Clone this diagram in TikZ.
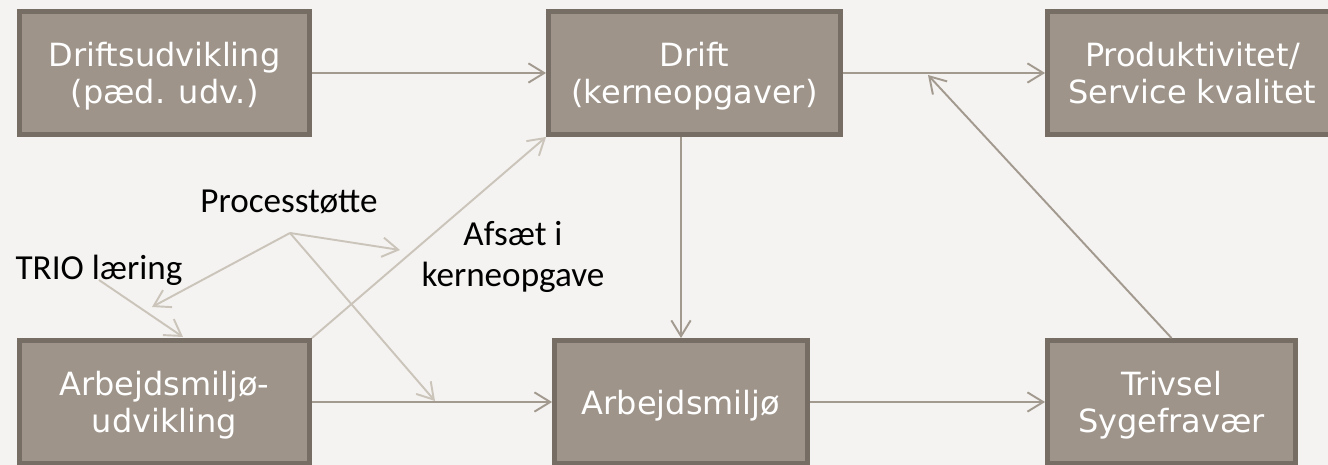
\documentclass[tikz,border=0pt]{standalone}
\usepackage{fontspec}
\setmainfont{Carlito}
\newfontfamily\boxfont{DejaVu Sans}
\usepackage[HTML]{xcolor}
\usepackage{tikz}
\usetikzlibrary{positioning, arrows.meta}

\definecolor{paper}{HTML}{F4F3F1}
\definecolor{boxfill}{HTML}{9E948A}
\definecolor{boxline}{HTML}{766D65}
\definecolor{darkarrow}{HTML}{A39A8F}
\definecolor{lightarrow}{HTML}{CBC4BA}

\begin{document}
\begin{tikzpicture}[x=0.02cm, y=-0.02cm,
  block/.style={draw=boxline, fill=boxfill, line width=2.8pt, text=white,
    minimum height=2.46cm, align=center, inner sep=0pt, text depth=0pt,
    font=\boxfont\fontsize{18.2}{21}\selectfont},
  note/.style={text=black, align=center, font=\fontsize{20}{23.8}\selectfont},
  link/.style={darkarrow, line width=1.1pt, -{Straight Barb[length=9pt, width=11pt]}},
  hint/.style={link, lightarrow}]

% --- Canvas ---
\fill[paper] (0,0) rectangle (1328,465);
\useasboundingbox (0,0) rectangle (1328,465);
\clip (0,0) rectangle (1328,465);

% --- Top row ---
\node[block, minimum width=5.8cm] (du) at (164.5,73) {Driftsudvikling\\(pæd. udv.)};
\node[block, minimum width=5.84cm] (drift) at (694.5,73) {Drift\\(kerneopgaver)};
\node[block, minimum width=5.8cm] (prod) at (1192.5,73) {Produktivitet/\\Service kvalitet};

% --- Bottom row ---
\node[block, minimum width=5.8cm] (amu) at (164.5,402) {Arbejdsmiljø-\\udvikling};
\node[block, minimum width=5.06cm] (am) at (681,402) {Arbejdsmiljø};
\node[block, minimum width=4.96cm] (triv) at (1171.5,402) {Trivsel\\Sygefravær};

% --- Labels ---
\node[note, anchor=base] (ps) at (289,213) {Processtøtte};
\node[note, anchor=base] (trio) at (99,280) {TRIO læring};
\node[note] (afs) at (513,257) {Afsæt i\\kerneopgave};

\coordinate (psfoot) at (290,233);
\coordinate (psright) at (400,250);
\coordinate (psleft) at (152,307);
\coordinate (psdown) at (435,401);
\coordinate (trioend) at (183,337);
\coordinate (hit) at (928,75);

% --- Main flow ---
\draw[link] (du) -- (drift);
\draw[link] (drift) -- (prod);
\draw[link] (amu) -- (am);
\draw[link] (am) -- (triv);
\draw[link] (drift.south -| am.north) -- (am.north);
\draw[link] (triv.north) -- (hit);

% --- Support arrows ---
\draw[hint] (amu.north east) -- (drift.south west);
\draw[hint] (psfoot) -- (psright);
\draw[hint] (psfoot) -- (psleft);
\draw[hint] (psfoot) -- (psdown);
\draw[hint] (trio.base) -- (trioend);

\end{tikzpicture}
\end{document}
